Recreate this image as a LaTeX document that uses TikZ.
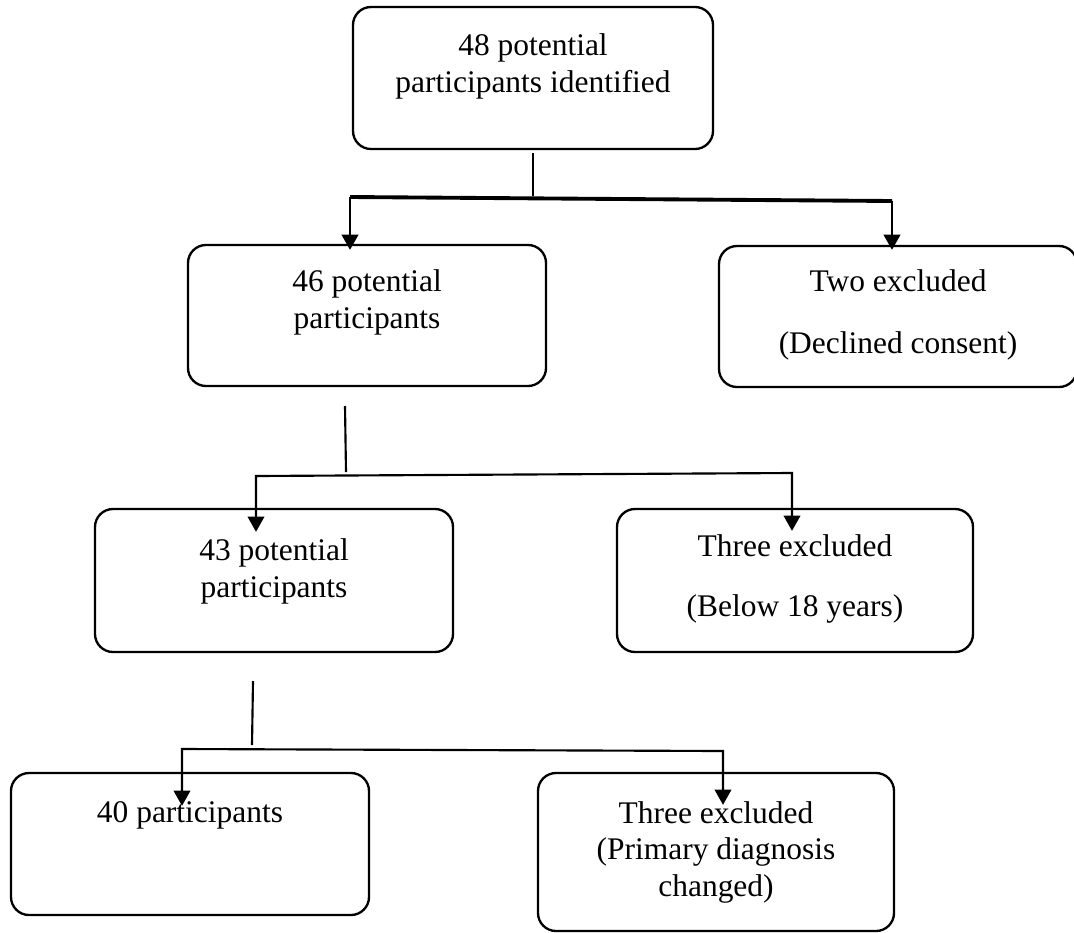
\documentclass[tikz,border=0pt]{standalone}
\usepackage{fontspec}
\setmainfont{Liberation Serif}
\usetikzlibrary{arrows.meta,fit,calc}
\newcommand\mlines[2][27.75pt]{\vtop{\baselineskip=#1\lineskiplimit=-100pt\halign{\hfil##\hfil\cr#2\crcr}}}
\tikzset{
  box/.style={draw, line width=1.75pt, rounded corners=13.5pt, inner sep=0pt},
  txt/.style={anchor=base, inner sep=0pt, font=\fontsize{23.6pt}{27.75pt}\selectfont},
  conn/.style={line width=1.6pt},
  bar/.style={line width=2.9pt},
  tip/.style={-{Triangle[width=12.5pt,length=11.5pt]}},
  tips/.style={{Triangle[width=12.5pt,length=11.5pt]}-{Triangle[width=12.5pt,length=11.5pt]}}
}
\begin{document}
\begin{tikzpicture}[x=0.75pt,y=-0.75pt]
\useasboundingbox (0,0) rectangle (1074,932);
% boxes
\node[box, fit={(353,7) (713,149)}] (b1) {};
\node[box, fit={(188,245) (546,386)}] (b2) {};
\node[box, fit={(719,246) (1077,387)}] (b3) {};
\node[box, fit={(95,509) (453,652)}] (b4) {};
\node[box, fit={(617,509) (973,652)}] (b5) {};
\node[box, fit={(11,773) (369,915)}] (b6) {};
\node[box, fit={(538,773) (894,931)}] (b7) {};
% texts
\node[txt] (t1) at (533,55) {\mlines{48 potential\cr participants identified}};
\node[txt] (t2) at (367,291) {\mlines{46 potential\cr participants}};
\node[txt] (t3) at (898,291) {\mlines[46.5pt]{Two excluded\cr (Declined consent)}};
\node[txt] (t4) at (274,560) {\mlines{43 potential\cr participants}};
\node[txt] (t5) at (795,556) {\mlines[45pt]{Three excluded\cr (Below 18 years)}};
\node[txt] (t6) at (190,822) {40 participants};
\node[txt] (t7) at (716,823) {\mlines[27.4pt]{Three excluded\cr (Primary diagnosis\cr changed)}};
% connector points
\coordinate (s1t) at ($(b1.south)+(0,3)$);
\coordinate (s1b) at (533,196);
\coordinate (h1l) at (350,197);
\coordinate (h1r) at (892,201);
\coordinate (a1l) at ($(h1l |- b2.north)+(0,6)$);
\coordinate (a1r) at ($(h1r |- b3.north)+(0,5)$);
\coordinate (s2t) at (345,406);
\coordinate (s2b) at (346,472);
\coordinate (h2l) at (256,476);
\coordinate (h2r) at (792,473);
\coordinate (a2l) at ($(h2l |- b4.north)+(0,24)$);
\coordinate (a2r) at ($(h2r |- b5.north)+(0,23)$);
\coordinate (s3t) at (253,681);
\coordinate (s3b) at (252,745);
\coordinate (h3l) at (182,749);
\coordinate (h3r) at (723,751);
\coordinate (a3l) at ($(h3l |- b6.north)+(0,34)$);
\coordinate (a3r) at ($(h3r |- b7.north)+(0,33)$);
% connectors
\draw[conn] (s1t) -- (s1b);
\draw[bar] (h1l) -- (h1r);
\draw[conn, line width=2pt, tip] (h1l) -- (a1l);
\draw[conn, line width=2pt, tip] (h1r) -- (a1r);
\draw[conn] (s2t) -- (s2b);
\draw[conn, tips] (a2l) -- (h2l) -- (h2r) -- (a2r);
\draw[conn] (s3t) -- (s3b);
\draw[conn, tips] (a3l) -- (h3l) -- (h3r) -- (a3r);
\end{tikzpicture}
\end{document}
